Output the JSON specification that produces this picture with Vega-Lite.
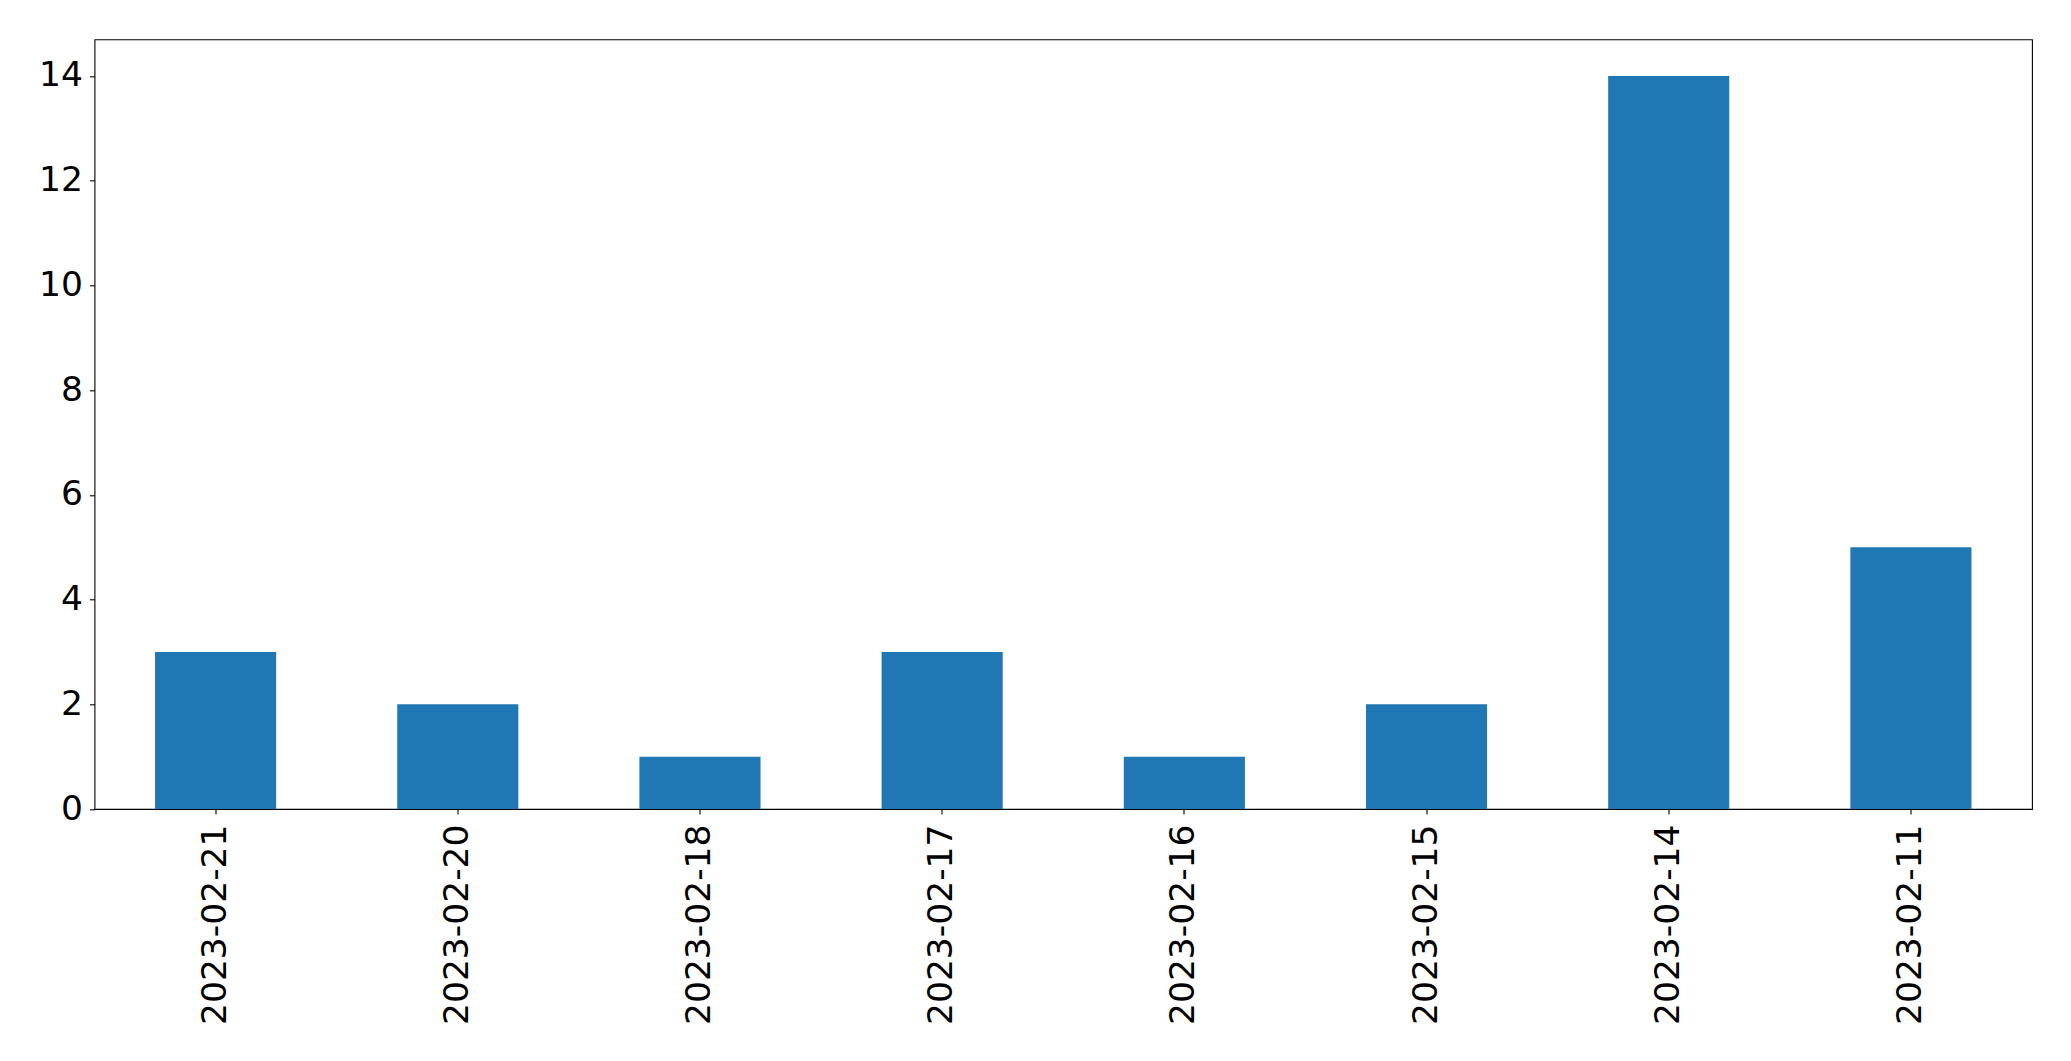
{
  "$schema": "https://vega.github.io/schema/vega-lite/v6.json",
  "width": 1937.5,
  "height": 769.7,
  "autosize": {"type": "none"},
  "padding": {"left": 94.5, "top": 39.3, "right": 39, "bottom": 252},
  "background": "white",
  "config": {
    "view": {"stroke": "black", "strokeWidth": 1.1},
    "axis": {
      "labelFont": "DejaVu Sans",
      "labelFontSize": 34.5,
      "labelColor": "black",
      "labelLimit": 0,
      "tickColor": "black",
      "domainColor": "black",
      "tickSize": 5,
      "tickWidth": 1.1,
      "domainWidth": 1.1,
      "grid": false,
      "title": null
    }
  },
  "data": {
    "values": [
      {"date": "2023-02-21", "count": 3},
      {"date": "2023-02-20", "count": 2},
      {"date": "2023-02-18", "count": 1},
      {"date": "2023-02-17", "count": 3},
      {"date": "2023-02-16", "count": 1},
      {"date": "2023-02-15", "count": 2},
      {"date": "2023-02-14", "count": 14},
      {"date": "2023-02-11", "count": 5}
    ]
  },
  "mark": {"type": "bar", "color": "#1f77b4"},
  "encoding": {
    "x": {
      "field": "date",
      "type": "nominal",
      "sort": null,
      "scale": {"paddingInner": 0.5, "paddingOuter": 0.25},
      "axis": {"labelAngle": -90, "labelPadding": 10, "domain": false}
    },
    "y": {
      "field": "count",
      "type": "quantitative",
      "scale": {"domain": [0, 14.7], "nice": false, "zero": true},
      "axis": {"values": [0, 2, 4, 6, 8, 10, 12, 14], "labelPadding": 7, "domain": false}
    }
  }
}
